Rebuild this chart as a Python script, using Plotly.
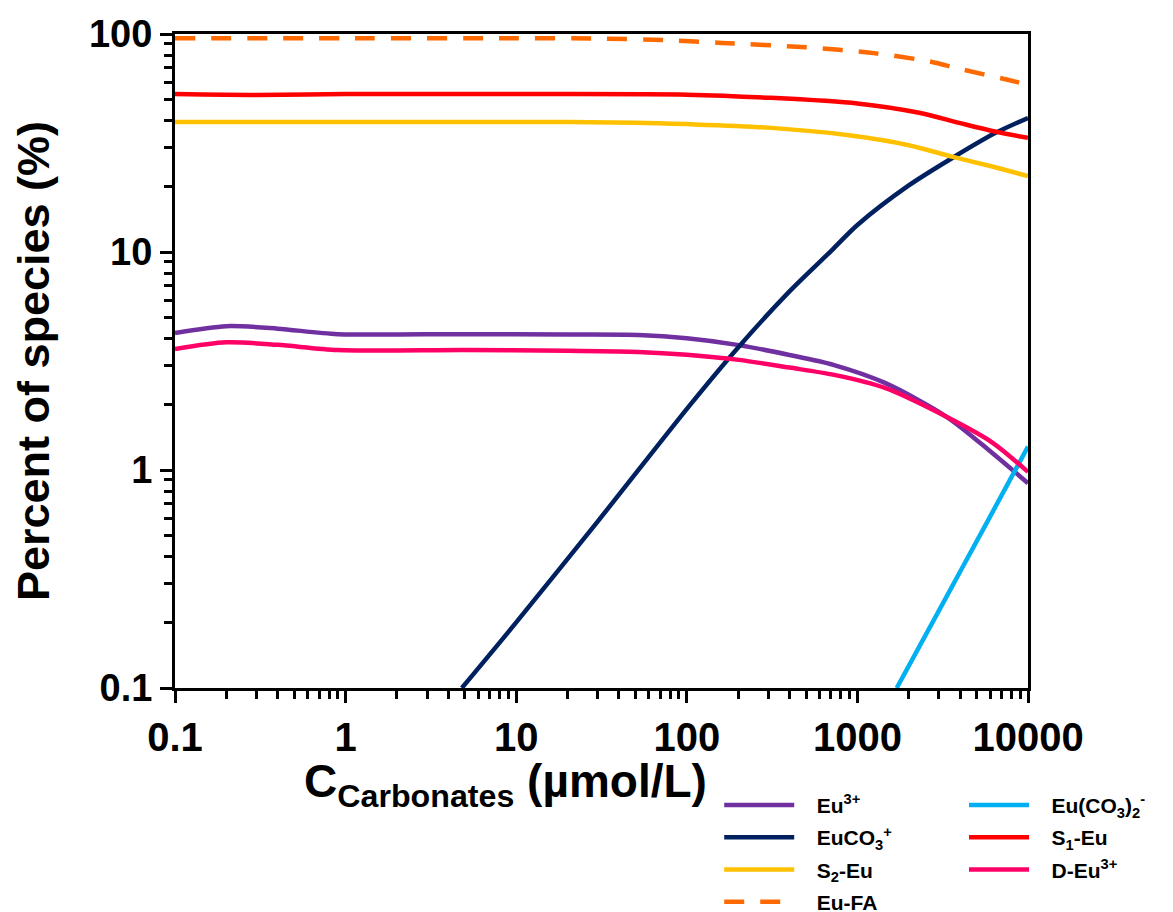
import plotly.graph_objects as go

# ---- data ----
eu3_x = [0.1, 0.2, 0.4, 0.9, 5, 20, 52, 100, 202, 400, 730, 1450, 3350, 6150, 10000]
eu3_y = [4.25, 4.57, 4.45, 4.2, 4.2, 4.18, 4.16, 4.02, 3.74, 3.37, 3.03, 2.51, 1.75, 1.20, 0.87]

euco3_x = [4.8, 10, 30, 104, 200, 400, 700, 1000, 2000, 3600, 6500, 10000]
euco3_y = [0.1, 0.2, 0.58, 1.98, 3.65, 6.6, 10.1, 13.3, 20.2, 27.0, 35.3, 41.2]

s2_x = [0.1, 1, 10, 50, 100, 300, 870, 2000, 3630, 6000, 10000]
s2_y = [39.5, 39.5, 39.5, 39.2, 38.6, 37.2, 34.4, 30.9, 27.3, 24.8, 22.3]

fa_x = [0.1, 1, 10, 30, 75, 160, 500, 1280, 2700, 3870, 7700, 10000]
fa_y = [95.6, 95.6, 95.6, 95.3, 93.8, 91, 86.9, 81.5, 74.6, 69.6, 61.5, 58.5]

euco32_x = [1700, 3000, 5500, 10000]
euco32_y = [0.1, 0.226, 0.54, 1.28]

s1_x = [0.1, 0.3, 1, 10, 100, 300, 1000, 2300, 4000, 6600, 10000]
s1_y = [53, 52.5, 53, 53, 52.7, 51, 48, 43.5, 39, 35.5, 33.4]

deu_x = [0.1, 0.2, 0.4, 0.9, 5, 20, 52, 100, 202, 400, 730, 1450, 3350, 6150, 10000]
deu_y = [3.59, 3.85, 3.75, 3.55, 3.55, 3.52, 3.48, 3.38, 3.2, 2.95, 2.73, 2.38, 1.75, 1.34, 0.98]

x_ticks = [0.1, 1, 10, 100, 1000, 10000]
x_tick_text = ["0.1", "1", "10", "100", "1000", "10000"]
y_ticks = [0.1, 1, 10, 100]
y_tick_text = ["0.1", "1", "10", "100"]

FONT = "Liberation Sans, Arial, sans-serif"
PAD = "&nbsp;&nbsp;&nbsp;"

series = [
    ("Eu<sup>3+</sup>", eu3_x, eu3_y, "#7030A0", "solid", "legend"),
    ("EuCO<sub>3</sub><sup>+</sup>", euco3_x, euco3_y, "#002060", "solid", "legend"),
    ("S<sub>2</sub>-Eu", s2_x, s2_y, "#FFC000", "solid", "legend"),
    ("Eu-FA", fa_x, fa_y, "#FF6A00", "20px,16px", "legend"),
    ("Eu(CO<sub>3</sub>)<sub>2</sub><sup>-</sup>", euco32_x, euco32_y, "#00B0F0", "solid", "legend2"),
    ("S<sub>1</sub>-Eu", s1_x, s1_y, "#FF0000", "solid", "legend2"),
    ("D-Eu<sup>3+</sup>", deu_x, deu_y, "#FF0066", "solid", "legend2"),
]

fig = go.Figure()
for i, (name, xs, ys, color, dash, lg) in enumerate(series):
    fig.add_trace(go.Scatter(
        x=xs, y=ys, mode="lines", name=PAD + name, legend=lg, legendgroup=f"g{i}",
        line=dict(color=color, width=4.5, dash=dash, shape="spline", smoothing=0.8),
    ))

fig.update_xaxes(
    type="log", range=[-1, 4],
    tickmode="array", tickvals=x_ticks, ticktext=x_tick_text,
    ticks="outside", ticklen=12, tickwidth=3, tickcolor="black",
    minor=dict(tickmode="array",
               tickvals=[m * 10 ** e for e in range(-1, 4) for m in range(2, 10)],
               ticks="outside", ticklen=8, tickwidth=2.5, tickcolor="black"),
    showline=True, linewidth=3, linecolor="black", mirror=True,
    showgrid=False, zeroline=False,
    tickfont=dict(family=FONT, size=40, color="black", weight="bold"),
)
fig.update_yaxes(
    type="log", range=[-1, 2],
    tickmode="array", tickvals=y_ticks, ticktext=y_tick_text,
    ticks="outside", ticklen=12, tickwidth=3, tickcolor="black",
    minor=dict(tickmode="array",
               tickvals=[m * 10 ** e for e in range(-1, 2) for m in range(2, 10)],
               ticks="outside", ticklen=8, tickwidth=2.5, tickcolor="black"),
    showline=True, linewidth=3, linecolor="black", mirror=True,
    showgrid=False, zeroline=False,
    tickfont=dict(family=FONT, size=38, color="black", weight="bold"),
    title=dict(text="Percent of species (%)", standoff=26,
               font=dict(family=FONT, size=45, color="black", weight="bold")),
)

fig.add_annotation(
    text="C<sub>Carbonates</sub> (µmol/L)", xref="paper", yref="paper",
    x=0.388, y=-0.1, xanchor="center", yanchor="top", showarrow=False,
    font=dict(family=FONT, size=46, color="black", weight="bold"),
)

legend_common = dict(
    orientation="v", xanchor="left", yanchor="top",
    bgcolor="rgba(0,0,0,0)", tracegroupgap=2,
    font=dict(family=FONT, size=21, color="black", weight="bold"),
)
fig.update_layout(
    width=1173, height=912,
    margin=dict(l=167, r=153, t=26, b=232, autoexpand=False),
    paper_bgcolor="white", plot_bgcolor="white",
    showlegend=True,
    legend=dict(x=0.638, y=-0.148, itemwidth=70, **legend_common),
    legend2=dict(x=0.925, y=-0.148, itemwidth=60, **legend_common),
)

fig.write_html("out.html")
